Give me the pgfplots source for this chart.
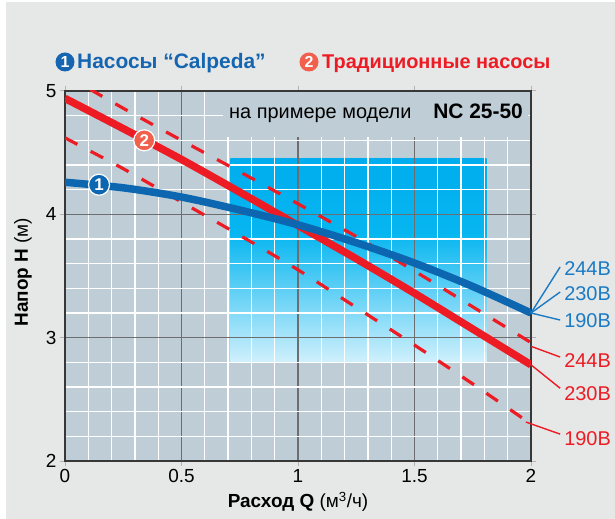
\documentclass[border=0pt]{standalone}
\usepackage{pgfplots}
\pgfplotsset{compat=1.18}
\usepackage{fontspec}
\setmainfont{Liberation Sans}
\definecolor{pagebg}{RGB}{230,231,231}
\definecolor{plotbg}{RGB}{191,206,214}
\definecolor{gridmaj}{RGB}{110,110,112}
\definecolor{framec}{RGB}{55,55,55}
\definecolor{cblue}{RGB}{12,103,176}
\definecolor{tblue}{RGB}{21,101,176}
\definecolor{lblue}{RGB}{26,123,196}
\definecolor{cred}{RGB}{237,28,36}
\definecolor{cred2}{RGB}{240,96,77}
\definecolor{gradtop}{RGB}{0,173,238}
\definecolor{gradmid}{RGB}{6,182,240}
\definecolor{gradbot}{RGB}{208,240,252}
\pgfdeclareverticalshading{boxshade}{100bp}{color(0bp)=(gradbot); color(25bp)=(gradbot); color(56.8bp)=(gradmid); color(75bp)=(gradtop); color(100bp)=(gradtop)}
\pgfdeclarelayer{pagebg}
\pgfdeclarelayer{gradient}
\pgfdeclarelayer{labelbox}
\pgfplotsset{
 layers/mylayers/.define layer set={pagebg,axis background,gradient,axis grid,labelbox,axis ticks,axis lines,axis tick labels,pre main,main,axis descriptions,axis foreground}{
  grid style={/pgfplots/on layer=axis grid},
  tick style={/pgfplots/on layer=axis ticks},
  axis line style={/pgfplots/on layer=axis lines},
  label style={/pgfplots/on layer=axis descriptions},
  legend style={/pgfplots/on layer=axis descriptions},
  title style={/pgfplots/on layer=axis descriptions},
  colorbar style={/pgfplots/on layer=axis descriptions},
  ticklabel style={/pgfplots/on layer=axis tick labels},
  axis background@ style={/pgfplots/on layer=axis background},
  3d box foreground style={/pgfplots/on layer=axis foreground},
 },
}
\begin{document}
\begin{tikzpicture}
\begin{axis}[
 set layers=mylayers,
 at={(0,0)}, anchor=south west,
 scale only axis, width=466bp, height=370bp,
 xmin=0, xmax=2, ymin=2, ymax=5,
 xtick={0,0.5,1,1.5,2}, ytick={2,3,4,5},
 xticklabels={0,0.5,1,1.5,2},
 minor xtick={0.1,0.2,0.3,0.4,0.6,0.7,0.8,0.9,1.1,1.2,1.3,1.4,1.6,1.7,1.8,1.9},
 minor ytick={2.2,2.4,2.6,2.8,3.2,3.4,3.6,3.8,4.2,4.4,4.6,4.8},
 grid=both,
 major grid style={color=gridmaj, line width=1.6bp},
 minor grid style={color=white, line width=1.3bp},
 axis background/.style={fill=plotbg},
 axis line style={color=framec, line width=2bp},
 tick style={color=gray!60, line width=1bp},
 major tick length=5bp, minor tick length=0pt,
 tick align=outside,
 /pgf/number format/assume math mode=true,
 ticklabel style={font=\fontsize{19}{22}\selectfont},
 xlabel={\textbf{Расход Q} (м\textsuperscript{3}/ч)},
 ylabel={\textbf{Напор H} (м)},
 x label style={at={(axis description cs:0.5,-0.11)}, anchor=center, font=\fontsize{19}{22}\selectfont},
 y label style={at={(axis description cs:-0.09,0.51)}, anchor=center, rotate=0, font=\fontsize{19}{22}\selectfont},
 clip mode=individual,
]
\begin{pgfonlayer}{pagebg}
\fill[pagebg] (axis cs:-0.2532,1.52) rectangle (axis cs:2.37,5.7216);
\end{pgfonlayer}
\begin{pgfonlayer}{gradient}
\shade[shading=boxshade] (axis cs:0.71,2.8) rectangle (axis cs:1.81,4.45);
\end{pgfonlayer}
\begin{pgfonlayer}{labelbox}
\fill[plotbg] (axis cs:0.68,4.63) rectangle (axis cs:1.985,4.99);
\end{pgfonlayer}
\node[anchor=base west, inner sep=0, font=\fontsize{20}{22}\selectfont] at (axis cs:0.704,4.773) {на примере модели};
\node[anchor=base east, inner sep=0, font=\bfseries\fontsize{21}{22}\selectfont] at (axis cs:1.966,4.773) {NC 25-50};

% 244 V traditional
\addplot[cred, line width=3.2bp, dash pattern=on 14bp off 15bp, smooth] coordinates {
(0,5.13) (0.25,4.86) (0.5,4.6) (0.75,4.345) (1,4.085) (1.25,3.82) (1.5,3.54) (1.75,3.25) (2,2.96)};
% 190 V traditional
\addplot[cred, line width=3.2bp, dash pattern=on 14bp off 15bp, smooth] coordinates {
(0,4.62) (0.25,4.37) (0.5,4.1) (0.75,3.83) (1,3.55) (1.25,3.245) (1.5,2.94) (1.75,2.625) (2,2.30)};
% 230 V traditional
\addplot[cred, line width=7.5bp, smooth] coordinates {
(0,4.94) (0.25,4.695) (0.5,4.445) (0.75,4.18) (1,3.91) (1.25,3.64) (1.5,3.36) (1.75,3.07) (2,2.78)};
% Calpeda
\addplot[cblue, line width=7.5bp, smooth] coordinates {
(0,4.26) (0.25,4.215) (0.5,4.14) (0.75,4.035) (1,3.915) (1.25,3.77) (1.5,3.605) (1.75,3.415) (2,3.20)};

\node[circle, fill=cblue, draw=white, line width=1.2bp, inner sep=0, minimum size=21bp, text=white, font=\bfseries\fontsize{17}{17}\selectfont] at (axis cs:0.146,4.24) {1};
\node[circle, fill=cred2, draw=white, line width=1.2bp, inner sep=0, minimum size=21bp, text=white, font=\bfseries\fontsize{17}{17}\selectfont] at (axis cs:0.34,4.60) {2};

% leader lines
\draw[lblue, line width=1.4bp] (axis cs:2,3.20) -- (axis cs:2.125,3.573);
\draw[lblue, line width=1.4bp] (axis cs:2,3.20) -- (axis cs:2.125,3.37);
\draw[lblue, line width=1.4bp] (axis cs:2,3.20) -- (axis cs:2.125,3.143);
\draw[cred, line width=1.4bp] (axis cs:2.0,2.93) -- (axis cs:2.125,2.843);
\draw[cred, line width=1.4bp] (axis cs:2.0,2.78) -- (axis cs:2.125,2.59);
\draw[cred, line width=1.4bp] (axis cs:1.978,2.316) -- (axis cs:2.125,2.218);
\tikzset{vlab/.style={anchor=west, inner sep=0, font=\fontsize{20}{22}\selectfont}}
\node[vlab, text=lblue] at (axis cs:2.142,3.561) {244В};
\node[vlab, text=lblue] at (axis cs:2.142,3.358) {230В};
\node[vlab, text=lblue] at (axis cs:2.142,3.139) {190В};
\node[vlab, text=cred] at (axis cs:2.142,2.815) {244В};
\node[vlab, text=cred] at (axis cs:2.142,2.547) {230В};
\node[vlab, text=cred] at (axis cs:2.142,2.182) {190В};
\end{axis}
% title
\node[circle, fill=tblue, inner sep=0, minimum size=19bp, text=white, font=\bfseries\fontsize{16}{16}\selectfont] at (0bp,399bp) {1};
\node[anchor=base west, inner sep=0, text=tblue, font=\bfseries\fontsize{21}{22}\selectfont] at (12bp,392bp) {Насосы “Calpeda”};
\node[circle, fill=cred2, inner sep=0, minimum size=19bp, text=white, font=\bfseries\fontsize{16}{16}\selectfont] at (244bp,399bp) {2};
\node[anchor=base west, inner sep=0, text=cred, font=\bfseries\fontsize{20}{22}\selectfont] at (257bp,392bp) {Традиционные насосы};
\pgfresetboundingbox
\path (-65bp,-58bp) rectangle (550bp,461bp);
\end{tikzpicture}
\end{document}
